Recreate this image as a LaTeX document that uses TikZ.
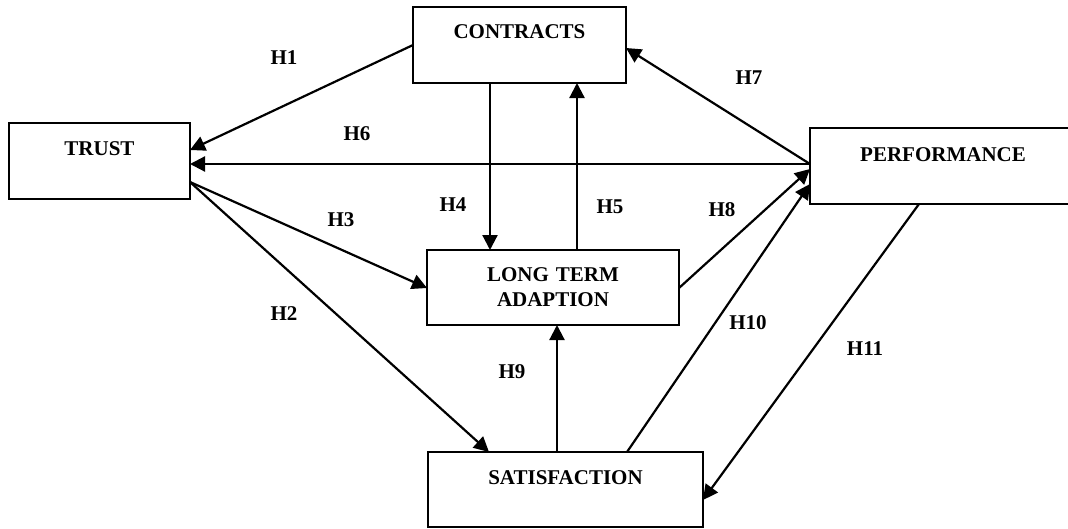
\documentclass[tikz,border=0pt]{standalone}
\usepackage{fontspec}
\setmainfont{Liberation Serif}
\usetikzlibrary{arrows.meta}

\begin{document}
\begin{tikzpicture}[x=1pt,y=-1pt,
  box/.style={draw,line width=1.7pt,inner sep=0pt,outer sep=0pt,anchor=north west,
    align=center,font=\bfseries\fontsize{21}{25}\selectfont},
  hyp/.style={line width=2.2pt,-{Triangle[length=15pt,width=15pt]}},
  hlabel/.style={inner sep=0pt,font=\bfseries\fontsize{21}{25}\selectfont}]
\useasboundingbox (0,0) rectangle (1068,528);

% constructs (text height/depth keep the words near the top edge)
\node[box,text width=213pt,text height=31pt,text depth=45pt] (contracts) at (413,7) {CONTRACTS};
\node[box,text width=181pt,text height=32pt,text depth=44pt] (trust) at (9,123) {TRUST};
\node[box,text width=266pt,text height=33pt,text depth=43pt] (performance) at (810,128) {PERFORMANCE};
\node[box,text width=252pt,text height=31pt,text depth=44pt] (lta) at (427,250) {LONG TERM\\ADAPTION};
\node[box,text width=275pt,text height=32pt,text depth=43pt] (satisfaction) at (428,452) {SATISFACTION};

% hypotheses
\draw[hyp] (contracts.west |- 0,45) -- (trust.east |- 0,150);
\draw[hyp] (trust.east |- 0,182) -- (satisfaction.north -| 489,0);
\draw[hyp] (trust.east |- 0,182) -- (lta.west |- 0,288);
\draw[hyp] (contracts.south -| 490,0) -- (lta.north -| 490,0);
\draw[hyp] (lta.north -| 577,0) -- (contracts.south -| 577,0);
\draw[hyp] (performance.west |- 0,164) -- (trust.east |- 0,164);
\draw[hyp] (performance.west |- 0,164) -- (contracts.east |- 0,48);
\draw[hyp] (lta.east |- 0,288) -- (performance.west |- 0,169);
\draw[hyp] (satisfaction.north -| 557,0) -- (lta.south -| 557,0);
\draw[hyp] (satisfaction.north -| 627,0) -- (performance.west |- 0,184);
\draw[hyp] (performance.south -| 919,0) -- (satisfaction.east |- 0,500);

\node[hlabel] (h1) at (284,58) {H1};
\node[hlabel] (h2) at (284,314) {H2};
\node[hlabel] (h3) at (341,220) {H3};
\node[hlabel] (h4) at (453,205) {H4};
\node[hlabel] (h5) at (610,207) {H5};
\node[hlabel] (h6) at (357,134) {H6};
\node[hlabel] (h7) at (749,78) {H7};
\node[hlabel] (h8) at (722,210) {H8};
\node[hlabel] (h9) at (512,372) {H9};
\node[hlabel] (h10) at (748,323) {H10};
\node[hlabel] (h11) at (865,349) {H11};
\end{tikzpicture}
\end{document}
